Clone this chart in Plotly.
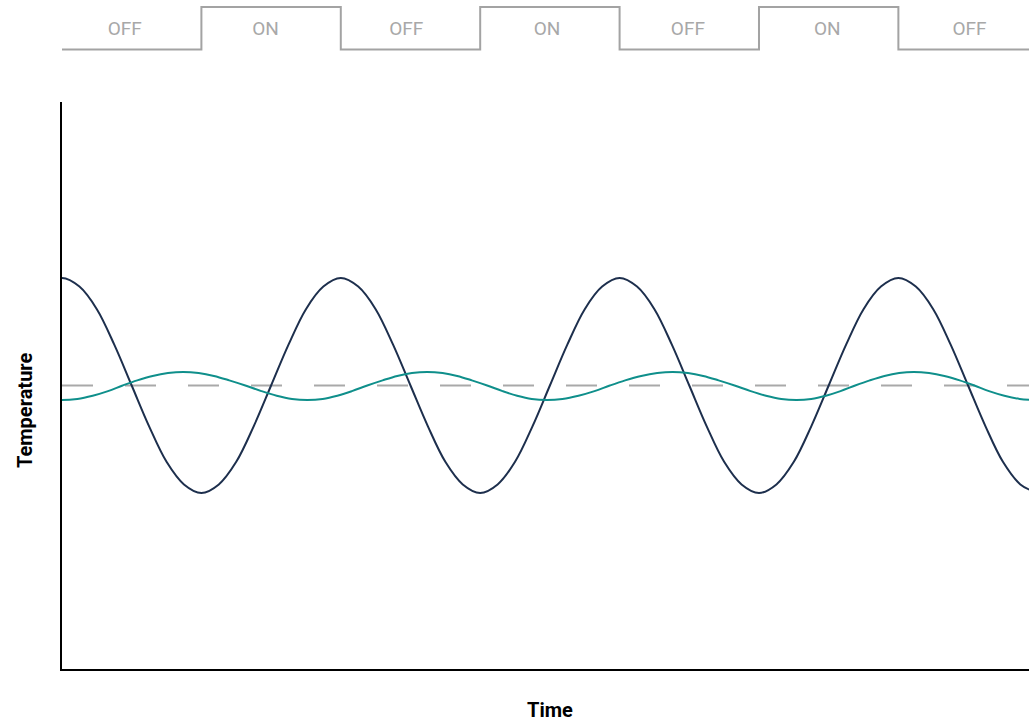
import plotly.graph_objects as go

# ---- data ----
# time in half-cycle units, temperature relative to the set point
room_t = [-0.125, 0.000, 0.125, 0.250, 0.375, 0.500, 0.625, 0.750, 0.875,
          1.000, 1.125, 1.250, 1.375, 1.500, 1.625, 1.750, 1.875,
          2.000, 2.125, 2.250, 2.375, 2.500, 2.625, 2.750, 2.875,
          3.000, 3.125, 3.250, 3.375, 3.500, 3.625, 3.750, 3.875,
          4.000, 4.125, 4.250, 4.375, 4.500, 4.625, 4.750, 4.875,
          5.000, 5.125, 5.250, 5.375, 5.500, 5.625, 5.750, 5.875,
          6.000, 6.125, 6.250, 6.375, 6.500, 6.625, 6.750, 6.875, 7.000]
room_temp = [0.92, 1.00, 0.92, 0.71, 0.38, 0.00, -0.38, -0.71, -0.92,
             -1.00, -0.92, -0.71, -0.38, 0.00, 0.38, 0.71, 0.92,
             1.00, 0.92, 0.71, 0.38, 0.00, -0.38, -0.71, -0.92,
             -1.00, -0.92, -0.71, -0.38, 0.00, 0.38, 0.71, 0.92,
             1.00, 0.92, 0.71, 0.38, 0.00, -0.38, -0.71, -0.92,
             -1.00, -0.92, -0.71, -0.38, 0.00, 0.38, 0.71, 0.92,
             1.00, 0.92, 0.71, 0.38, 0.00, -0.38, -0.71, -0.92, -1.00]

smooth_t = [-0.11, 0.00, 0.11, 0.22, 0.33, 0.435, 0.54, 0.65, 0.76, 0.87,
            0.98, 1.09, 1.20, 1.315, 1.43, 1.54, 1.65, 1.76,
            1.87, 1.975, 2.08, 2.19, 2.30, 2.405, 2.51, 2.62,
            2.73, 2.835, 2.94, 3.05, 3.16, 3.265, 3.37, 3.48,
            3.59, 3.705, 3.82, 3.93, 4.04, 4.155, 4.27, 4.38,
            4.49, 4.60, 4.71, 4.825, 4.94, 5.05, 5.16, 5.27,
            5.375, 5.48, 5.585, 5.69, 5.795, 5.90, 6.005, 6.11,
            6.22, 6.33, 6.44, 6.545, 6.65, 6.76, 6.87, 6.98]
smooth_temp = [-0.125, -0.135, -0.125, -0.095, -0.052, 0.000, 0.048, 0.089, 0.116, 0.126,
               0.116, 0.089, 0.048, 0.000, -0.052, -0.095, -0.125, -0.135,
               -0.125, -0.095, -0.052, 0.000, 0.048, 0.089, 0.116, 0.126,
               0.116, 0.089, 0.048, 0.000, -0.052, -0.095, -0.125, -0.135,
               -0.125, -0.095, -0.052, 0.000, 0.048, 0.089, 0.116, 0.126,
               0.116, 0.089, 0.048, 0.000, -0.052, -0.095, -0.125, -0.135,
               -0.125, -0.095, -0.052, 0.000, 0.048, 0.089, 0.116, 0.126,
               0.116, 0.089, 0.048, 0.000, -0.052, -0.095, -0.125, -0.135]

setpoint_t = [0.00, 6.94]
setpoint = [0.0, 0.0]

switch_t = [0, 1, 2, 3, 4, 5, 6, 6.94]
switch_state = [0, 1, 0, 1, 0, 1, 0, 0]

label_t = [0.45, 1.46, 2.47, 3.48, 4.49, 5.49, 6.51]
label_text = ["OFF", "ON", "OFF", "ON", "OFF", "ON", "OFF"]

fig = go.Figure()

fig.add_trace(go.Scatter(x=setpoint_t, y=setpoint, mode="lines",
                         line=dict(color="#a9a9a9", width=2, dash="31px,32px"),
                         hoverinfo="skip", showlegend=False))
fig.add_trace(go.Scatter(x=room_t, y=room_temp, mode="lines",
                         line=dict(color="#1d2f4d", width=2, shape="spline", smoothing=1.0),
                         showlegend=False))
fig.add_trace(go.Scatter(x=smooth_t, y=smooth_temp, mode="lines",
                         line=dict(color="#0f8f8b", width=2, shape="spline", smoothing=1.0),
                         showlegend=False))
fig.add_trace(go.Scatter(x=switch_t, y=switch_state, mode="lines", yaxis="y2",
                         line=dict(color="#a3a3a3", width=2, shape="hv"),
                         showlegend=False, cliponaxis=False))
fig.add_trace(go.Scatter(x=label_t, y=[0.45] * len(label_t), mode="text", yaxis="y2",
                         text=label_text, textposition="middle center",
                         textfont=dict(family="Roboto", size=19, color="#a8a8a8"),
                         showlegend=False, cliponaxis=False))

fig.update_layout(
    width=1029, height=724,
    margin=dict(l=62, r=0, t=0, b=55),
    paper_bgcolor="white", plot_bgcolor="white",
    font=dict(family="Roboto"),
    hovermode=False,
    xaxis=dict(range=[0, 6.937], showline=True, linecolor="black", linewidth=2,
               showgrid=False, zeroline=False, showticklabels=False, ticks=""),
    yaxis=dict(range=[-2.637, 2.637], domain=[0, 0.84753], showline=True,
               linecolor="black", linewidth=2, showgrid=False, zeroline=False,
               showticklabels=False, ticks=""),
    yaxis2=dict(range=[-0.247, 1.165], domain=[0.91031, 1.0], visible=False,
                anchor="x", fixedrange=True),
    annotations=[
        dict(text="<b>Temperature</b>", textangle=-90, xref="paper", yref="paper",
             x=(25 - 62) / 967, y=(669 - 411) / 669, xanchor="center", yanchor="middle",
             showarrow=False, font=dict(family="Roboto", size=20, color="black")),
        dict(text="<b>Time</b>", xref="paper", yref="paper",
             x=(550 - 62) / 967, y=(669 - 710) / 669, xanchor="center", yanchor="middle",
             showarrow=False, font=dict(family="Roboto", size=20, color="black")),
    ],
)

fig.write_html("out.html", config={"displayModeBar": False},
               post_script="document.body.style.margin='0';document.body.style.padding='0';")
